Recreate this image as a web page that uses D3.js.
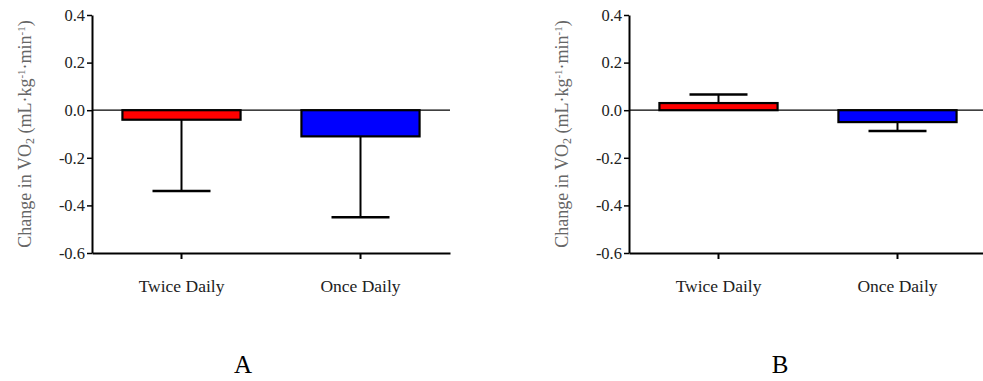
<!DOCTYPE html>
<html>
<head>
<meta charset="utf-8">
<script src="https://cdn.jsdelivr.net/npm/d3@7"></script>
<style>
  body { margin: 0; background: #fff; }
</style>
</head>
<body>
<svg width="983" height="381"></svg>
<script>
const categories = ["Twice Daily", "Once Daily"];
const colors = ["#ff0000", "#0000ff"];
const yTicks = [0.4, 0.2, 0.0, -0.2, -0.4, -0.6];

// panel A
const meansA = [-0.04, -0.11];
const errA = [-0.34, -0.45];
// panel B
const meansB = [0.03, -0.05];
const errB = [0.066, -0.087];

const panelLetters = ["A", "B"];
const FONT = "'Liberation Serif', 'Times New Roman', serif";

const svg = d3.select("svg").style("font-family", FONT);

const yScale = d3.scaleLinear()
  .domain([-0.6, 0.4])
  .range([253, 15]);

function drawPanel(left, right, means, errs, letter) {
  const g = svg.append("g");

  const xScale = d3.scaleBand()
    .domain(categories)
    .range([left, right])
    .paddingInner(0.34)
    .paddingOuter(0.17);

  // y axis
  const yAxis = g.append("g")
    .attr("transform", `translate(${left},0)`)
    .call(d3.axisLeft(yScale).tickValues(yTicks).tickSize(5).tickSizeOuter(0));
  yAxis.select(".domain").attr("stroke", "#000").attr("stroke-width", 2);
  yAxis.selectAll(".tick line").attr("stroke", "#000").attr("stroke-width", 1.5);
  yAxis.selectAll(".tick text")
    .style("font-family", FONT)
    .style("font-size", "16.5px")
    .attr("fill", "#222")
    .attr("x", -7)
    .text(d => d3.format(".1f")(d).replace("\u2212", "-"));

  // x axis at bottom
  const xAxis = g.append("g")
    .attr("transform", `translate(0,${yScale(-0.6)})`)
    .call(d3.axisBottom(xScale).tickSize(6).tickSizeOuter(0));
  xAxis.select(".domain").attr("stroke", "#000").attr("stroke-width", 2);
  xAxis.selectAll(".tick line").attr("stroke", "#000").attr("stroke-width", 2);
  xAxis.selectAll(".tick text")
    .style("font-family", FONT)
    .style("font-size", "17.5px")
    .attr("fill", "#222")
    .attr("y", 27);

  // zero line
  g.append("line")
    .attr("x1", left).attr("x2", right)
    .attr("y1", yScale(0)).attr("y2", yScale(0))
    .attr("stroke", "#000").attr("stroke-width", 1.3);

  // error bars
  const capW = 58;
  categories.forEach((c, i) => {
    const cx = xScale(c) + xScale.bandwidth() / 2;
    g.append("line")
      .attr("x1", cx).attr("x2", cx)
      .attr("y1", yScale(means[i])).attr("y2", yScale(errs[i]))
      .attr("stroke", "#000").attr("stroke-width", 2);
    g.append("line")
      .attr("x1", cx - capW / 2).attr("x2", cx + capW / 2)
      .attr("y1", yScale(errs[i])).attr("y2", yScale(errs[i]))
      .attr("stroke", "#000").attr("stroke-width", 2.5);
  });

  // bars
  g.selectAll(".bar")
    .data(categories)
    .enter()
    .append("rect")
    .classed("bar", true)
    .attr("x", d => xScale(d))
    .attr("width", xScale.bandwidth())
    .attr("y", (d, i) => yScale(Math.max(0, means[i])))
    .attr("height", (d, i) => Math.abs(yScale(means[i]) - yScale(0)))
    .attr("fill", (d, i) => colors[i])
    .attr("stroke", "#000")
    .attr("stroke-width", 2.2);

  // y label
  const lab = g.append("text")
    .attr("transform", `translate(${left - 61},${yScale(-0.1)}) rotate(-90)`)
    .attr("text-anchor", "middle")
    .style("font-size", "18px")
    .attr("fill", "#666");
  lab.append("tspan").text("Change in VO");
  lab.append("tspan").attr("baseline-shift", "-25%").style("font-size", "12px").text("2");
  lab.append("tspan").text(" (mL\u00b7kg");
  lab.append("tspan").attr("baseline-shift", "super").style("font-size", "11px").text("-1");
  lab.append("tspan").text("\u00b7min");
  lab.append("tspan").attr("baseline-shift", "super").style("font-size", "11px").text("-1");
  lab.append("tspan").text(")");

  // panel letter
  svg.append("text")
    .attr("x", (left + right) / 2 - 28)
    .attr("y", 373)
    .attr("text-anchor", "middle")
    .style("font-size", "25px")
    .attr("fill", "#000")
    .text(letter);
}

drawPanel(92, 450, meansA, errA, panelLetters[0]);
drawPanel(629, 987, meansB, errB, panelLetters[1]);
</script>
</body>
</html>
